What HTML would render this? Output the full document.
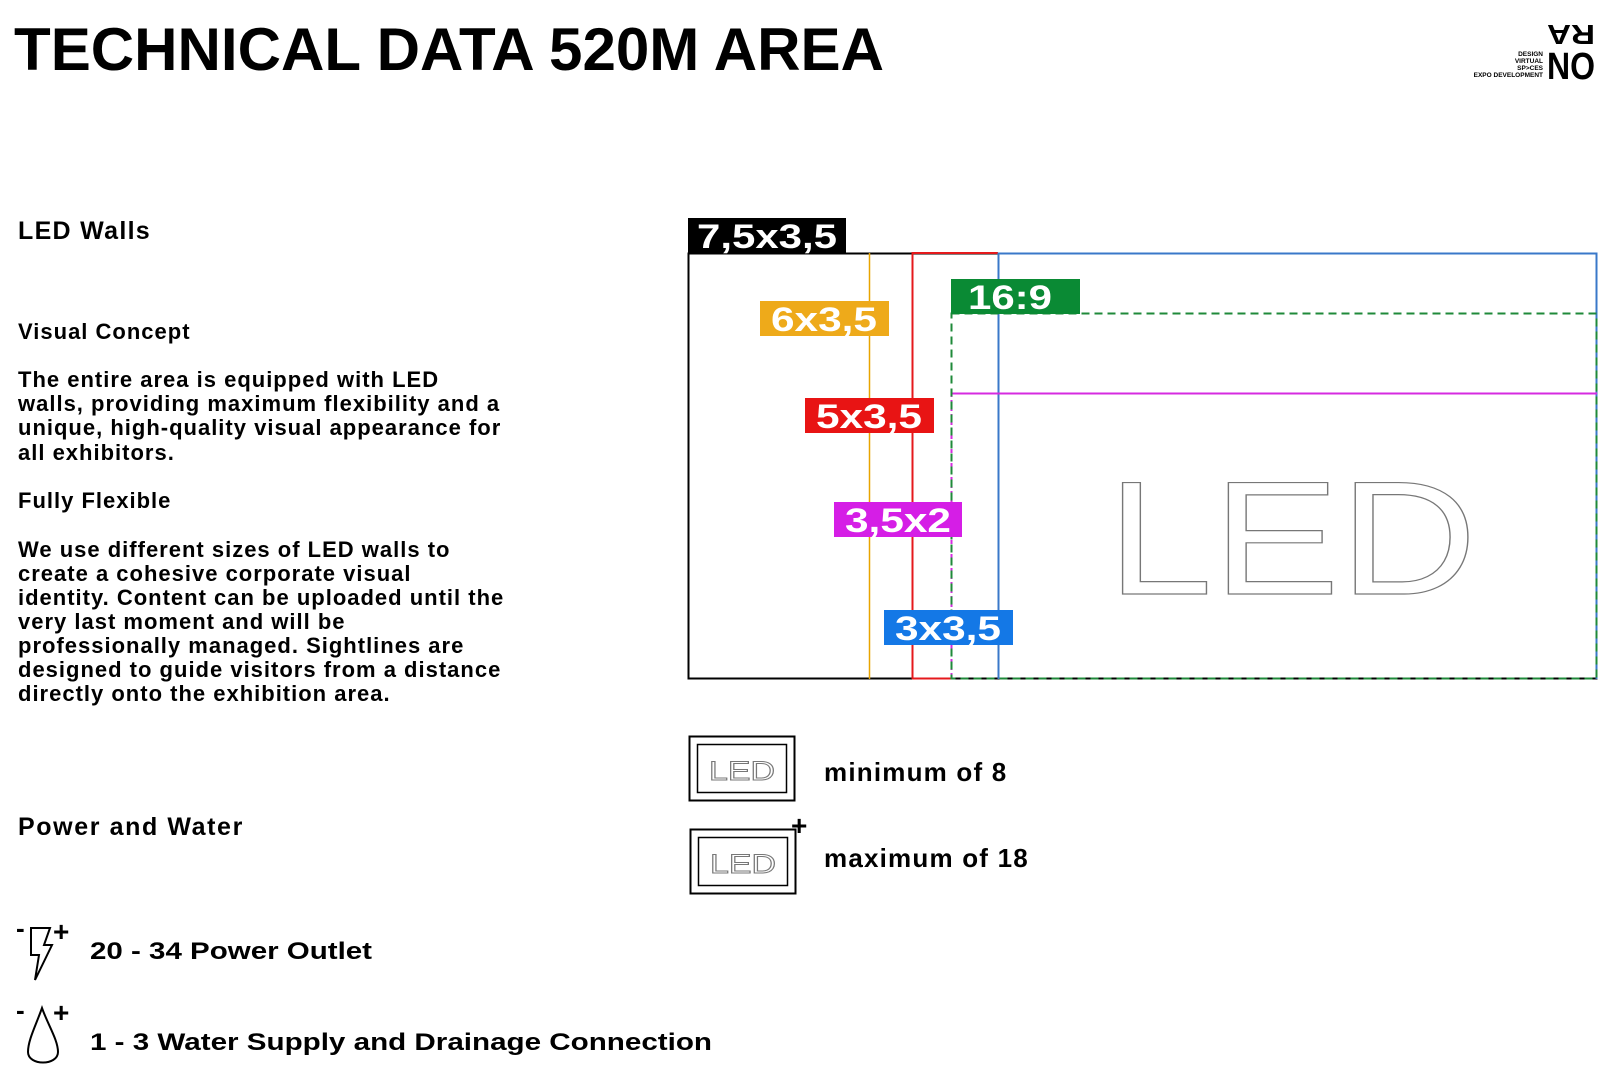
<!DOCTYPE html>
<html><head><meta charset="utf-8"><style>
html,body{margin:0;padding:0;background:#fff;width:1600px;height:1072px;overflow:hidden}
svg{display:block}
text{font-family:"Liberation Sans",Arial,sans-serif;font-weight:bold;fill:#000}
</style></head><body>
<svg width="1600" height="1072" viewBox="0 0 1600 1072" xmlns="http://www.w3.org/2000/svg">
<text x="14" y="70" font-size="60" textLength="870" lengthAdjust="spacingAndGlyphs">TECHNICAL DATA 520M AREA</text>

<!-- logo -->
<g font-size="6.5" text-anchor="end">
<text x="1543" y="56">DESIGN</text>
<text x="1543" y="63">VIRTUAL</text>
<text x="1543" y="70">SP&gt;CES</text>
<text x="1543" y="77">EXPO DEVELOPMENT</text>
</g>
<text x="1571" y="45" font-size="28" transform="rotate(180 1571 35)" text-anchor="middle" textLength="48" lengthAdjust="spacingAndGlyphs">RA</text>
<text x="1571" y="79" font-size="38" text-anchor="middle" textLength="48" lengthAdjust="spacingAndGlyphs">NO</text>

<!-- left text -->
<text x="18" y="239" font-size="25" letter-spacing="1.3">LED Walls</text>
<text x="18" y="339" font-size="22" letter-spacing="1">Visual Concept</text>
<g font-size="22" letter-spacing="1">
<text x="18" y="387">The entire area is equipped with LED</text>
<text x="18" y="411">walls, providing maximum flexibility and a</text>
<text x="18" y="435">unique, high-quality visual appearance for</text>
<text x="18" y="460">all exhibitors.</text>
<text x="18" y="508">Fully Flexible</text>
<text x="18" y="557">We use different sizes of LED walls to</text>
<text x="18" y="581">create a cohesive corporate visual</text>
<text x="18" y="605">identity. Content can be uploaded until the</text>
<text x="18" y="629">very last moment and will be</text>
<text x="18" y="653">professionally managed. Sightlines are</text>
<text x="18" y="677">designed to guide visitors from a distance</text>
<text x="18" y="701">directly onto the exhibition area.</text>
</g>
<text x="18" y="835" font-size="25" letter-spacing="1.6">Power and Water</text>

<!-- diagram -->
<rect x="688.5" y="253.5" width="908" height="425" fill="none" stroke="#000" stroke-width="2"/>
<line x1="869.5" y1="253" x2="869.5" y2="679" stroke="#e8a400" stroke-width="1.5"/>
<polyline points="912.5,679 912.5,253 998,253" fill="none" stroke="#e5191c" stroke-width="2"/>
<line x1="912" y1="678.5" x2="951" y2="678.5" stroke="#e5191c" stroke-width="2"/>
<polyline points="998.5,679 998.5,253.5 1596.5,253.5 1596.5,679" fill="none" stroke="#3a78c9" stroke-width="2"/>
<line x1="951" y1="393.5" x2="1597" y2="393.5" stroke="#d62be0" stroke-width="2"/>
<line x1="951.5" y1="393" x2="951.5" y2="679" stroke="#d62be0" stroke-width="2" stroke-dasharray="4 3"/>
<rect x="951.5" y="313.5" width="645" height="365" fill="none" stroke="#1f8a3a" stroke-width="2" stroke-dasharray="8 5"/>

<rect x="688" y="218" width="158" height="35" fill="#000"/>
<text x="767" y="248" font-size="34" style="fill:#fff" text-anchor="middle" textLength="140" lengthAdjust="spacingAndGlyphs">7,5x3,5</text>
<rect x="760" y="301" width="129" height="35" fill="#eeaa1a"/>
<text x="824" y="331" font-size="34" style="fill:#fff" text-anchor="middle" textLength="106" lengthAdjust="spacingAndGlyphs">6x3,5</text>
<rect x="951" y="279" width="129" height="35" fill="#0a8a34"/>
<text x="1010" y="309" font-size="34" style="fill:#fff" text-anchor="middle" textLength="84" lengthAdjust="spacingAndGlyphs">16:9</text>
<rect x="805" y="398" width="129" height="35" fill="#e81414"/>
<text x="869" y="428" font-size="34" style="fill:#fff" text-anchor="middle" textLength="106" lengthAdjust="spacingAndGlyphs">5x3,5</text>
<rect x="834" y="502" width="128" height="35" fill="#d51ee6"/>
<text x="898" y="532" font-size="34" style="fill:#fff" text-anchor="middle" textLength="106" lengthAdjust="spacingAndGlyphs">3,5x2</text>
<rect x="884" y="610" width="129" height="35" fill="#1478e6"/>
<text x="948" y="640" font-size="34" style="fill:#fff" text-anchor="middle" textLength="106" lengthAdjust="spacingAndGlyphs">3x3,5</text>

<text x="1107" y="594" font-size="162" style="fill:none;stroke:#777;stroke-width:1.2;font-weight:normal" textLength="370" lengthAdjust="spacingAndGlyphs">LED</text>

<!-- legend -->
<rect x="689.5" y="736.5" width="105" height="64" fill="none" stroke="#000" stroke-width="2"/>
<rect x="697.5" y="744.5" width="89" height="48" fill="none" stroke="#000" stroke-width="1.5"/>
<text x="742" y="780" font-size="27" text-anchor="middle" style="fill:none;stroke:#777;stroke-width:1;font-weight:normal" textLength="66" lengthAdjust="spacingAndGlyphs">LED</text>
<text x="824" y="781" font-size="26" letter-spacing="1.2">minimum of 8</text>

<rect x="690.5" y="829.5" width="105" height="64" fill="none" stroke="#000" stroke-width="2"/>
<rect x="698.5" y="837.5" width="89" height="48" fill="none" stroke="#000" stroke-width="1.5"/>
<text x="743" y="873" font-size="27" text-anchor="middle" style="fill:none;stroke:#777;stroke-width:1;font-weight:normal" textLength="66" lengthAdjust="spacingAndGlyphs">LED</text>
<text x="791" y="835" font-size="28">+</text>
<text x="824" y="867" font-size="26" letter-spacing="1.2">maximum of 18</text>

<!-- power icon -->
<text x="16" y="937" font-size="26">-</text>
<text x="53" y="941" font-size="28">+</text>
<path d="M31 928 L50 928 L44 945 L52 945 L35 980 L39 955 L31 955 Z" fill="none" stroke="#000" stroke-width="2"/>
<text x="90" y="959" font-size="24" textLength="282" lengthAdjust="spacingAndGlyphs">20 - 34 Power Outlet</text>

<!-- water icon -->
<text x="16" y="1019" font-size="26">-</text>
<text x="53" y="1022" font-size="28">+</text>
<path d="M42 1008 C36 1025 28 1040 28 1052 C28 1066 58 1066 58 1052 C58 1040 48 1025 42 1008 Z" fill="none" stroke="#000" stroke-width="2"/>
<text x="90" y="1050" font-size="24" textLength="622" lengthAdjust="spacingAndGlyphs">1 - 3 Water Supply and Drainage Connection</text>
</svg>
</body></html>
